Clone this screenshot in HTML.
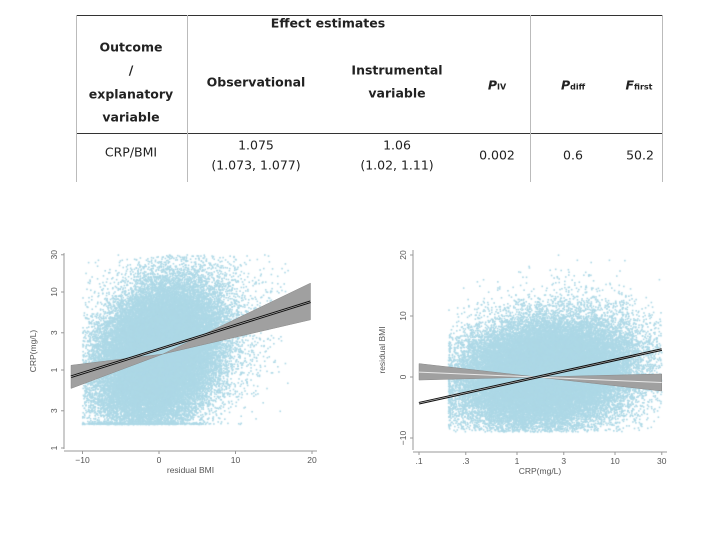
<!DOCTYPE html>
<html><head><meta charset="utf-8">
<style>
html,body{margin:0;padding:0;background:#fff;}
#root{position:relative;width:720px;height:540px;overflow:hidden;font-family:"DejaVu Sans","Liberation Sans",sans-serif;}
.t{position:absolute;transform:translate(-50%,-50%);white-space:nowrap;font-size:12.5px;color:#222;}
.b{font-weight:bold;}
.ln{position:absolute;background:#888;}
canvas{position:absolute;left:0;top:0;}
svg{position:absolute;left:0;top:0;}
.ax{font-family:"Liberation Sans",sans-serif;font-size:8.5px;fill:#555;}
</style></head>
<body>
<div id="root">
  <div>
    <div class="ln" style="left:76px;top:15px;width:587px;height:1px;background:#333"></div>
    <div class="ln" style="left:76px;top:133px;width:587px;height:1px;background:#333"></div>
    <div class="ln" style="left:76px;top:15px;width:1px;height:167px;background:#bbb"></div>
    <div class="ln" style="left:187px;top:15px;width:1px;height:167px;background:#bbb"></div>
    <div class="ln" style="left:530px;top:15px;width:1px;height:167px;background:#bbb"></div>
    <div class="ln" style="left:662px;top:15px;width:1px;height:167px;background:#bbb"></div>
    <div class="t b" style="left:328px;top:23px">Effect estimates</div>
    <div class="t b" style="left:131px;top:47px">Outcome</div>
    <div class="t b" style="left:131px;top:70px">/</div>
    <div class="t b" style="left:131px;top:94px">explanatory</div>
    <div class="t b" style="left:131px;top:117px">variable</div>
    <div class="t b" style="left:256px;top:82px">Observational</div>
    <div class="t b" style="left:397px;top:70px">Instrumental</div>
    <div class="t b" style="left:397px;top:93px">variable</div>
    <div class="t b" style="left:497px;top:85px;font-style:italic">P<span style="font-size:8px;font-style:normal">IV</span></div>
    <div class="t b" style="left:573px;top:85px;font-style:italic">P<span style="font-size:8px;font-style:normal">diff</span></div>
    <div class="t b" style="left:639px;top:85px;font-style:italic">F<span style="font-size:8px;font-style:normal">first</span></div>
    <div class="t" style="left:131px;top:152px">CRP/BMI</div>
    <div class="t" style="left:256px;top:145px">1.075</div>
    <div class="t" style="left:256px;top:165px">(1.073, 1.077)</div>
    <div class="t" style="left:397px;top:145px">1.06</div>
    <div class="t" style="left:397px;top:165px">(1.02, 1.11)</div>
    <div class="t" style="left:497px;top:155px">0.002</div>
    <div class="t" style="left:573px;top:155px">0.6</div>
    <div class="t" style="left:640px;top:155px">50.2</div>
  </div>
  <canvas id="cv" width="720" height="540"></canvas>
  <svg id="sv" width="720" height="540"></svg>
</div>
<script>
// Left chart: residual BMI (x) vs CRP log (y)
const leftXTicks = [-10, 0, 10, 20];
const leftYTicks = [0.1, 0.3, 1, 3, 10, 30];
const leftYTickLabels = ["1", "3", "1", "3", "10", "30"];
const leftLineX = [-11.5, 19.8];
const leftLineY = [0.82, 7.5];
const leftBandLow = [0.58, 4.4];
const leftBandHigh = [1.15, 13];
const leftPivot = [0.5, 1.6];
const leftCloud = [0, 3.9, 0.2, 0.45, -10, 17, 0.2, 30]; // xMean,xSd,log10 yMean,yLogSd,xMin,xMax,yMin,yMax
// Right chart: CRP log (x) vs residual BMI (y)
const rightXTicks = [0.1, 0.3, 1, 3, 10, 30];
const rightXTickLabels = [".1", ".3", "1", "3", "10", "30"];
const rightYTicks = [-10, 0, 10, 20];
const rightLineX = [0.1, 30];
const rightLineY = [-4.3, 4.5];
const rightBandLow = [-0.5, -2.3];
const rightBandHigh = [2.2, 0.5];
const rightIVLine = [0.8, -0.9];
const rightPivot = [1.6, 0];
const rightCloud = [0.3, 0.45, 0.5, 4.0, 0.2, 30, -9, 20];

const NS = "http://www.w3.org/2000/svg";
const sv = document.getElementById('sv');
function mk(tag, attrs, parent){ const e=document.createElementNS(NS,tag); for(const k in attrs) e.setAttribute(k,attrs[k]); (parent||sv).appendChild(e); return e; }

const L = {x:(v)=>159+(v)*7.65, y:(v)=>370-Math.log10(v)*78};
const R = {x:(v)=>517+Math.log10(v)*98, y:(v)=>377-v*6.1};

// seeded generator for cloud texture (mulberry32)
let seed = 987654321;
function rnd(){ seed |= 0; seed = (seed + 0x6D2B79F5) | 0; let t = Math.imul(seed ^ (seed >>> 15), 1 | seed); t = (t + Math.imul(t ^ (t >>> 7), 61 | t)) ^ t; return ((t ^ (t >>> 14)) >>> 0) / 4294967296; }
function gauss(){ let u=rnd()||1e-9, v=rnd(); return Math.sqrt(-2*Math.log(u))*Math.cos(2*Math.PI*v); }

const ctx = document.getElementById('cv').getContext('2d');
ctx.fillStyle = '#add8e6';
// left cloud
for(let i=0;i<40000;i++){
  let x = leftCloud[0]+gauss()*leftCloud[1]*(rnd()<0.15?1.6:1);
  if(x<leftCloud[4]||x>leftCloud[5]) continue;
  let ly = leftCloud[2]+0.028*x+gauss()*leftCloud[3];
  let y = Math.pow(10, ly);
  if(y<leftCloud[6]) { if(rnd()<0.5) continue; y=leftCloud[6]*(1+0.04*rnd()); }
  if(y>leftCloud[7]) continue;
  ctx.fillRect(L.x(x)-0.8, L.y(y)-0.8, 1.6, 1.6);
}
// right cloud
for(let i=0;i<40000;i++){
  let lx = rightCloud[0]+gauss()*rightCloud[1];
  let x = Math.pow(10,lx);
  if(x<rightCloud[4]) { if(rnd()<0.8) continue; x=rightCloud[4]*(1+0.05*rnd()); }
  if(x>rightCloud[5]) continue;
  let y = rightCloud[2]+1.5*(lx-0.2)+gauss()*rightCloud[3]*(1+0.25*Math.max(0,gauss()));
  if(y<rightCloud[6]||y>rightCloud[7]) continue;
  ctx.fillRect(R.x(x)-0.8, R.y(y)-0.8, 1.6, 1.6);
}

function drawAxes(sc, xticks, xlabels, yticks, ylabels, box, xtitle, ytitle, pre){
  const g = mk('g',{});
  
  
  mk('line',{x1:box.x0,y1:box.y0,x2:box.x0,y2:box.y1,stroke:'#999','stroke-width':1},g);
  mk('line',{x1:box.x0,y1:box.y1+2,x2:box.x1,y2:box.y1+2,stroke:'#999','stroke-width':1},g);
  xticks.forEach((v,i)=>{
    const x=sc.x(v);
    mk('line',{x1:x,y1:box.y1+2,x2:x,y2:box.y1+5,stroke:'#999'},g);
    const t=mk('text',{x:x,y:box.y1+14,'text-anchor':'middle',class:'ax'},g);
    t.textContent = xlabels? xlabels[i] : (v<0?'\u2212'+(-v):String(v));
  });
  yticks.forEach((v,i)=>{
    const y=sc.y(v);
    mk('line',{x1:box.x0-3,y1:y,x2:box.x0,y2:y,stroke:'#999'},g);
    const t=mk('text',{x:box.x0-7,y:y,'text-anchor':'middle',class:'ax',transform:`rotate(-90 ${box.x0-7} ${y})`},g);
    t.textContent = ylabels? ylabels[i] : (v<0?'\u2212'+(-v):String(v));
  });
  const xt=mk('text',{x:(box.x0+box.x1)/2,y:box.y1+24,'text-anchor':'middle',class:'ax'},g);
  xt.textContent=xtitle;
  const yx=box.x0-28, yy=(box.y0+box.y1)/2;
  const yt=mk('text',{x:yx,y:yy,'text-anchor':'middle',class:'ax',transform:`rotate(-90 ${yx} ${yy})`},g);
  yt.textContent=ytitle;
}

// left band (bow-tie)
const lb = mk('polygon',{points:[
  [L.x(leftLineX[0]),L.y(leftBandLow[0])],[L.x(leftLineX[0]),L.y(leftBandHigh[0])],[L.x(leftPivot[0]),L.y(leftPivot[1])],
  [L.x(leftLineX[1]),L.y(leftBandHigh[1])],[L.x(leftLineX[1]),L.y(leftBandLow[1])],[L.x(leftPivot[0]),L.y(leftPivot[1])]
].map(p=>p.join(',')).join(' '),fill:'#a0a0a0',stroke:'#888','stroke-width':0.5});


const ll = mk('line',{x1:L.x(leftLineX[0]),y1:L.y(leftLineY[0]),x2:L.x(leftLineX[1]),y2:L.y(leftLineY[1]),stroke:'#111','stroke-width':2.6});


mk('line',{x1:L.x(leftLineX[0]),y1:L.y(leftLineY[0]),x2:L.x(leftLineX[1]),y2:L.y(leftLineY[1]),stroke:'#ccc','stroke-width':0.6});
drawAxes(L, leftXTicks, null, leftYTicks, leftYTickLabels, {x0:64,x1:317,y0:253,y1:449}, 'residual BMI', 'CRP(mg/L)', 'left');

// right band
const rb = mk('polygon',{points:[
  [R.x(rightLineX[0]),R.y(rightBandLow[0])],[R.x(rightLineX[0]),R.y(rightBandHigh[0])],[R.x(rightPivot[0]),R.y(rightPivot[1])],
  [R.x(rightLineX[1]),R.y(rightBandHigh[1])],[R.x(rightLineX[1]),R.y(rightBandLow[1])],[R.x(rightPivot[0]),R.y(rightPivot[1])]
].map(p=>p.join(',')).join(' '),fill:'#a0a0a0',stroke:'#888','stroke-width':0.5});


const riv = mk('line',{x1:R.x(rightLineX[0]),y1:R.y(rightIVLine[0]),x2:R.x(rightLineX[1]),y2:R.y(rightIVLine[1]),stroke:'#e8e8e8','stroke-width':1});


const rl = mk('line',{x1:R.x(rightLineX[0]),y1:R.y(rightLineY[0]),x2:R.x(rightLineX[1]),y2:R.y(rightLineY[1]),stroke:'#111','stroke-width':2.6});


mk('line',{x1:R.x(rightLineX[0]),y1:R.y(rightLineY[0]),x2:R.x(rightLineX[1]),y2:R.y(rightLineY[1]),stroke:'#ccc','stroke-width':0.6});
drawAxes(R, rightXTicks, rightXTickLabels, rightYTicks, null, {x0:413,x1:667,y0:250,y1:450}, 'CRP(mg/L)', 'residual BMI', 'right');
</script>
</body></html>
